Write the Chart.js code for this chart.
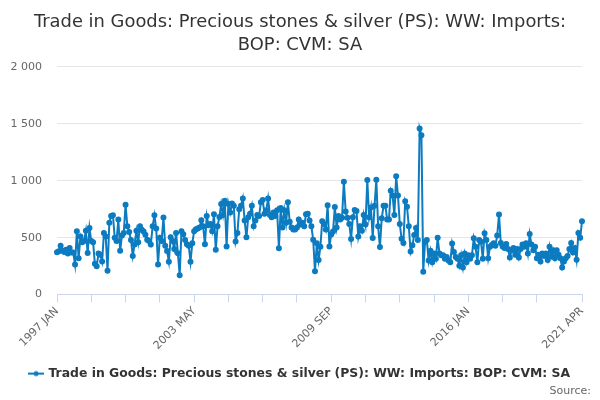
<!DOCTYPE html>
<html>
<head>
<meta charset="utf-8">
<script src="https://cdn.jsdelivr.net/npm/chart.js@4.4.1/dist/chart.umd.min.js"></script>
<style>
  html, body { margin: 0; padding: 0; background: #fff; }
  #wrap { width: 600px; height: 400px; }
</style>
</head>
<body>
<div id="wrap"><canvas id="chart"></canvas></div>
<script>
var seriesName = 'Trade in Goods: Precious stones & silver (PS): WW: Imports: BOP: CVM: SA';
var titleLines = ['Trade in Goods: Precious stones & silver (PS): WW: Imports:', 'BOP: CVM: SA'];
var firstYear = 1997;
var monthNames = ['JAN', 'FEB', 'MAR', 'APR', 'MAY', 'JUN', 'JUL', 'AUG', 'SEP', 'OCT', 'NOV', 'DEC'];
var shownLabels = ['1997 JAN', '2003 MAY', '2009 SEP', '2016 JAN', '2021 APR'];
var yTicks = [0, 500, 1000, 1500, 2000];

// monthly values, 1997 JAN .. 2021 APR
var imports = [
  372, 380, 430, 385, 375, 395, 360, 410, 370, 370,
  265, 556, 320, 510, 460, 470, 560, 365, 586, 470,
  460, 270, 250, 360, 350, 290, 540, 510, 210, 630,
  690, 696, 500, 470, 660, 385, 520, 540, 789, 600,
  550, 480, 340, 440, 560, 460, 600, 570, 555, 525,
  482, 470, 440, 600, 696, 580, 265, 500, 470, 676,
  430, 384, 289, 503, 470, 400, 542, 363, 170, 557,
  530, 480, 443, 430, 289, 452, 557, 575, 580, 590,
  652, 600, 443, 690, 610, 620, 557, 705, 393, 601,
  681, 795, 700, 824, 423, 795, 720, 800, 780, 467,
  540, 750, 780, 845, 650, 503, 680, 710, 780, 600,
  650, 700, 690, 810, 830, 710, 740, 845, 700, 680,
  720, 690, 740, 408, 760, 590, 740, 630, 810, 640,
  590, 571, 571, 590, 660, 615, 630, 600, 705, 711,
  650, 600, 482, 205, 450, 304, 420, 645, 620, 571,
  784, 423, 527, 555, 770, 590, 690, 660, 675, 992,
  730, 675, 620, 488, 680, 743, 735, 510, 600, 560,
  700, 615, 1006, 680, 765, 497, 780, 1009, 600, 417,
  670, 780, 780, 660, 660, 912, 870, 700, 1039, 870,
  620, 490, 453, 820, 772, 600, 379, 434, 524, 584,
  480, 1458, 1400, 200, 464, 479, 299, 385, 284, 360,
  315, 500, 360, 345, 345, 315, 330, 300, 284, 449,
  375, 330, 315, 254, 345, 239, 360, 284, 345, 315,
  345, 494, 420, 284, 480, 465, 315, 539, 480, 320,
  420, 435, 450, 430, 520, 703, 453, 423, 410, 445,
  400, 326, 390, 410, 350, 400, 326, 400, 440, 420,
  450, 360, 532, 440, 390, 420, 320, 350, 291, 360,
  340, 360, 305, 420, 335, 390, 320, 390, 350, 320,
  238, 290, 320, 340, 400, 453, 370, 410, 306, 541,
  500, 644
];

var labels = imports.map(function (v, i) {
  return (firstYear + Math.floor(i / 12)) + ' ' + monthNames[i % 12];
});

var blue = '#0c7bc0';
var font = 'DejaVu Sans';

// legend symbol: short line with a dot
var marker = document.createElement('canvas');
marker.width = 16; marker.height = 8;
var mctx = marker.getContext('2d');
mctx.strokeStyle = blue; mctx.lineWidth = 2;
mctx.beginPath(); mctx.moveTo(0, 4); mctx.lineTo(16, 4); mctx.stroke();
mctx.fillStyle = blue;
mctx.beginPath(); mctx.arc(8, 4, 2.5, 0, Math.PI * 2); mctx.fill();

function isTick(i) {
  return (i % 19 === 0 && i <= 266) || i === labels.length - 1;
}

new Chart(document.getElementById('chart'), {
  type: 'line',
  data: {
    labels: labels,
    datasets: [{
      label: seriesName,
      data: imports,
      borderColor: blue,
      backgroundColor: blue,
      borderWidth: 2,
      pointRadius: 2,
      pointHoverRadius: 3,
      tension: 0
    }]
  },
  options: {
    responsive: true,
    maintainAspectRatio: false,
    animation: false,
    layout: { padding: { left: 9, right: 9, top: 0, bottom: 2 } },
    plugins: {
      title: {
        display: true,
        text: titleLines,
        color: '#333',
        font: { family: font, size: 17.9, weight: 'normal', lineHeight: 1.28 },
        padding: { top: 11, bottom: 10 }
      },
      subtitle: {
        display: true,
        position: 'bottom',
        align: 'end',
        text: 'Source:',
        color: '#666',
        font: { family: font, size: 11, weight: 'normal' },
        padding: { top: -5, bottom: 0 }
      },
      legend: {
        position: 'bottom',
        labels: {
          usePointStyle: true,
          pointStyle: marker,
          color: '#333',
          font: { family: font, size: 12.4, weight: 'bold' },
          padding: 3
        }
      },
      tooltip: { enabled: false }
    },
    scales: {
      x: {
        offset: false,
        border: { color: '#ccd6eb' },
        afterFit: function (s) { s.height += 10; },
        grid: {
          drawOnChartArea: false,
          tickLength: 8,
          color: function (c) { return isTick(c.index) ? '#ccd6eb' : 'rgba(0,0,0,0)'; }
        },
        ticks: {
          autoSkip: false,
          minRotation: 45,
          maxRotation: 45,
          color: '#666',
          font: { family: font, size: 11 },
          padding: 2,
          callback: function (v, i) {
            var l = labels[i];
            return shownLabels.indexOf(l) >= 0 ? l : '';
          }
        }
      },
      y: {
        min: yTicks[0],
        max: yTicks[yTicks.length - 1],
        afterFit: function (s) { s.width = 48; },
        afterBuildTicks: function (s) {
          s.ticks = yTicks.map(function (v) { return { value: v }; });
        },
        border: { display: false },
        grid: { color: '#e6e6e6', drawTicks: false },
        ticks: {
          color: '#666',
          padding: 15,
          font: { family: font, size: 11 },
          callback: function (v) {
            return String(v).replace(/\B(?=(\d{3})+(?!\d))/g, ' ');
          }
        }
      },
      // empty right-hand spacer so the plot ends where the reference does
      spacer: {
        type: 'linear',
        position: 'right',
        afterFit: function (s) { s.width = 9; },
        border: { display: false },
        grid: { display: false },
        ticks: { display: false }
      }
    }
  }
});
</script>
</body>
</html>
